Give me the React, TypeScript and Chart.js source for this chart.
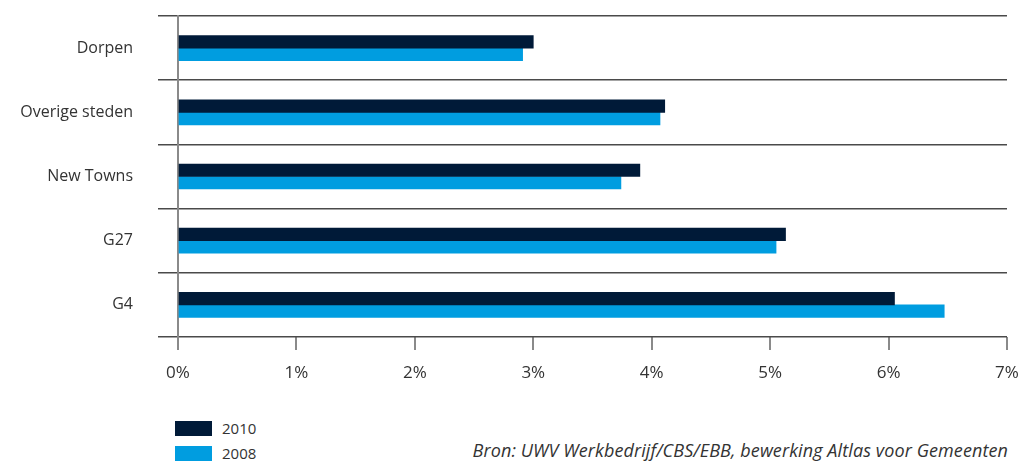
import React, { useEffect, useRef } from "react";
import { Chart, registerables } from "chart.js";

Chart.register(...registerables);

const categories = ["Dorpen", "Overige steden", "New Towns", "G27", "G4"];
const values2010 = [3.0, 4.11, 3.9, 5.13, 6.05];
const values2008 = [2.91, 4.07, 3.74, 5.05, 6.47];
const seriesLabels = ["2010", "2008"];
const colors = ["#001a38", "#009de0"];
const sourceText = "Bron: UWV Werkbedrijf/CBS/EBB, bewerking Altlas voor Gemeenten";

const FONT = "'Open Sans', 'Noto Sans', sans-serif";

export default function App() {
  const ref = useRef<HTMLCanvasElement | null>(null);

  useEffect(() => {
    if (!ref.current) return;
    const chart = new Chart(ref.current, {
      type: "bar",
      data: {
        labels: categories,
        datasets: [
          { label: seriesLabels[0], data: values2010, backgroundColor: colors[0], barThickness: 12.5 },
          { label: seriesLabels[1], data: values2008, backgroundColor: colors[1], barThickness: 12.5 },
        ],
      },
      options: {
        indexAxis: "y",
        animation: false,
        responsive: false,
        maintainAspectRatio: false,
        layout: { autoPadding: false, padding: { top: 16, right: 17, left: 0, bottom: 0 } },
        plugins: { legend: { display: false }, tooltip: { enabled: false } },
        scales: {
          x: {
            min: 0,
            max: 7,
            ticks: {
              stepSize: 1,
              callback: (v: any) => `${v}%`,
              color: "#333",
              font: { family: FONT, size: 17 },
              padding: 13,
            },
            grid: {
              drawOnChartArea: false,
              drawTicks: true,
              tickLength: 13,
              color: "#8a8a8a",
              lineWidth: 2,
            },
            border: { display: false },
            afterFit: (s: any) => {
              s.height = 400 - 337;
              s.paddingLeft = 0;
              s.paddingRight = 0;
              s.paddingTop = 0;
              s.paddingBottom = 0;
            },
          },
          y: {
            offset: true,
            ticks: {
              color: "#333",
              font: { family: FONT, size: 16 },
              padding: 25,
            },
            grid: {
              offset: true,
              drawTicks: true,
              tickLength: 20,
              color: "#4a4a4a",
              lineWidth: 1.5,
            },
            border: { display: true, color: "#8a8a8a", width: 2 },
            afterFit: (s: any) => {
              s.width = 178;
              s.paddingLeft = 0;
              s.paddingRight = 0;
              s.paddingTop = 0;
              s.paddingBottom = 0;
            },
          },
        },
      },
    });
    return () => chart.destroy();
  }, []);

  return (
    <div style={{ position: "absolute", left: 0, top: 0, width: 1024, height: 463, background: "#fff", fontFamily: FONT }}>
      <canvas ref={ref} width={1024} height={400} style={{ position: "absolute", left: 0, top: 0 }} />
      {seriesLabels.map((l, i) => (
        <div key={l} style={{ position: "absolute", left: 175, top: 421 + i * 25, height: 15, display: "flex", alignItems: "center" }}>
          <div style={{ width: 37, height: 15, background: colors[i] }} />
          <span style={{ marginLeft: 10, fontSize: 15, color: "#333", lineHeight: "15px" }}>{l}</span>
        </div>
      ))}
      <div style={{ position: "absolute", right: 16, top: 439, fontSize: 18, fontStyle: "italic", color: "#333", lineHeight: "22px", whiteSpace: "nowrap", letterSpacing: "0.1px" }}>
        {sourceText}
      </div>
    </div>
  );
}
